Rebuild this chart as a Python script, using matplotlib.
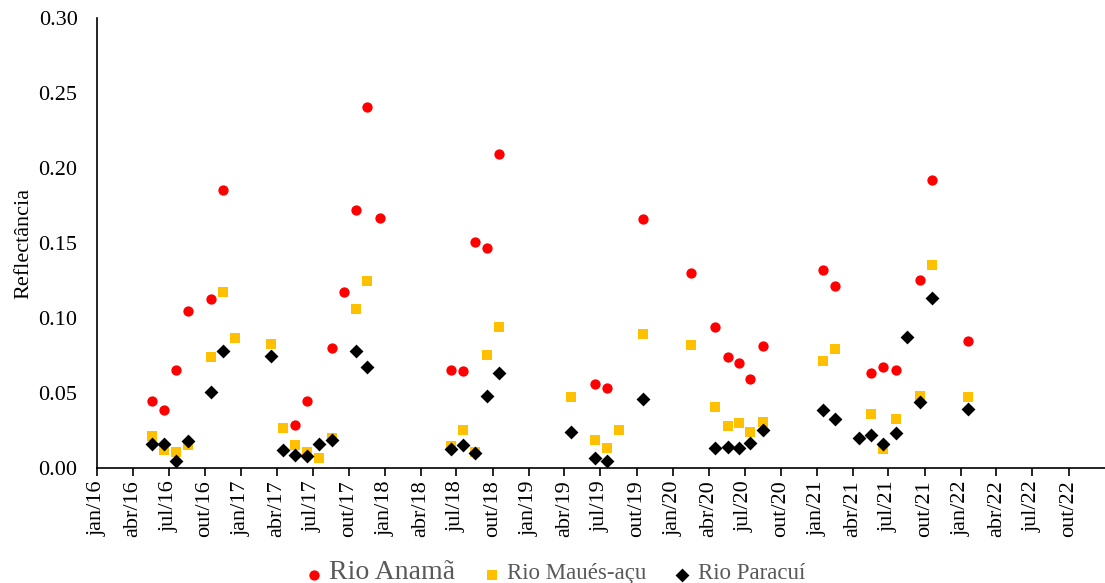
import pandas as pd
import matplotlib.pyplot as plt
from matplotlib.ticker import FormatStrFormatter

plt.rcParams['font.family'] = ['Liberation Serif', 'DejaVu Serif']

# Rio Anamã
datas_anama = ['2016-05-19', '2016-06-19', '2016-07-19', '2016-08-18', '2016-10-16', '2016-11-16',
               '2017-05-18', '2017-06-17', '2017-08-18', '2017-09-18', '2017-10-18', '2017-11-17',
               '2017-12-18', '2018-06-18', '2018-07-17', '2018-08-16', '2018-09-16', '2018-10-16',
               '2019-06-18', '2019-07-18', '2019-10-18', '2020-02-17', '2020-04-18', '2020-05-19',
               '2020-06-16', '2020-07-16', '2020-08-17', '2021-01-17', '2021-02-16', '2021-05-19',
               '2021-06-18', '2021-07-19', '2021-09-18', '2021-10-19', '2022-01-19']
anama = [0.0447, 0.0389, 0.0655, 0.105, 0.113, 0.1855,
         0.029, 0.0447, 0.0804, 0.1176, 0.1718, 0.2407,
         0.1669, 0.0655, 0.0649, 0.1509, 0.1467, 0.2091,
         0.0562, 0.0531, 0.1658, 0.1298, 0.094, 0.0742,
         0.070, 0.0593, 0.0811, 0.1324, 0.1213, 0.0631,
         0.0673, 0.0651, 0.1256, 0.1918, 0.0847]

# Rio Maués-açu
datas_maues = ['2016-05-19', '2016-06-19', '2016-07-19', '2016-08-18', '2016-10-16', '2016-11-16',
               '2016-12-16', '2017-03-17', '2017-04-18', '2017-05-18', '2017-06-17', '2017-07-18',
               '2017-08-18', '2017-10-18', '2017-11-17', '2018-06-18', '2018-07-17', '2018-08-16',
               '2018-09-16', '2018-10-16', '2019-04-17', '2019-06-18', '2019-07-18', '2019-08-18',
               '2019-10-18', '2020-02-17', '2020-04-18', '2020-05-19', '2020-06-16', '2020-07-16',
               '2020-08-17', '2021-01-17', '2021-02-16', '2021-05-19', '2021-06-18', '2021-07-19',
               '2021-09-18', '2021-10-19', '2022-01-19']
maues = [0.0216, 0.012, 0.011, 0.0153, 0.0744, 0.1176,
         0.087, 0.0829, 0.0267, 0.0153, 0.011, 0.0069,
         0.0198, 0.1064, 0.125, 0.0147, 0.0253, 0.0107,
         0.0753, 0.094, 0.0476, 0.0187, 0.0136, 0.0253,
         0.0891, 0.0822, 0.0409, 0.0284, 0.0302, 0.024,
         0.0309, 0.0711, 0.0791, 0.036, 0.0127, 0.0329,
         0.0478, 0.1353, 0.0471]

# Rio Paracuí
datas_paracui = ['2016-05-19', '2016-06-19', '2016-07-19', '2016-08-18', '2016-10-16', '2016-11-16',
                 '2017-03-17', '2017-04-18', '2017-05-18', '2017-06-17', '2017-07-18', '2017-08-18',
                 '2017-10-18', '2017-11-17', '2018-06-18', '2018-07-17', '2018-08-16', '2018-09-16',
                 '2018-10-16', '2019-04-17', '2019-06-18', '2019-07-18', '2019-10-18', '2020-04-18',
                 '2020-05-19', '2020-06-16', '2020-07-16', '2020-08-17', '2021-01-17', '2021-02-16',
                 '2021-04-18', '2021-05-19', '2021-06-18', '2021-07-19', '2021-08-18', '2021-09-18',
                 '2021-10-19', '2022-01-19']
paracui = [0.016, 0.016, 0.0049, 0.018, 0.0507, 0.0782,
           0.0747, 0.0124, 0.0089, 0.0084, 0.0164, 0.0187,
           0.0782, 0.0676, 0.0129, 0.0156, 0.0104, 0.0482,
           0.0636, 0.024, 0.0067, 0.0047, 0.0464, 0.0136,
           0.0142, 0.0131, 0.0167, 0.0253, 0.0387, 0.0329,
           0.020, 0.022, 0.016, 0.0236, 0.0873, 0.0438,
           0.1131, 0.0396]

meses = ['jan', 'abr', 'jul', 'out']

fig = plt.figure(figsize=(11.05, 5.83), dpi=100)
ax = fig.add_axes([0.0878, 0.197, 0.912, 0.772])

ax.scatter(pd.to_datetime(datas_anama), anama, marker='o', s=55, color='#FF0000',
           linewidths=0, label='Rio Anamã', zorder=3)
ax.scatter(pd.to_datetime(datas_maues), maues, marker='s', s=50, color='#FFC000',
           linewidths=0, label='Rio Maués-açu', zorder=4)
ax.scatter(pd.to_datetime(datas_paracui), paracui, marker='D', s=50, color='black',
           linewidths=0, label='Rio Paracuí', zorder=5)

ax.set_xlim(pd.Timestamp('2016-01-01'), pd.Timestamp('2023-01-01'))
ax.set_ylim(0, 0.30)

ticks = pd.date_range('2016-01-01', '2022-10-01', freq='QS')
ax.set_xticks(ticks)
ax.set_xticklabels([f'{meses[(t.month - 1) // 3]}/{t.year % 100:02d}' for t in ticks],
                   rotation=90, fontsize=16)
ax.set_yticks([0, 0.05, 0.10, 0.15, 0.20, 0.25, 0.30])
ax.yaxis.set_major_formatter(FormatStrFormatter('%.2f'))
ax.tick_params(axis='y', length=0, labelsize=16, pad=14)
ax.tick_params(axis='x', length=6, width=1.2, direction='out', pad=3)

ax.spines['top'].set_visible(False)
ax.spines['right'].set_visible(False)
ax.spines['left'].set_linewidth(1.2)
ax.spines['bottom'].set_linewidth(1.2)

ax.set_ylabel('Reflectância', fontsize=16, labelpad=4)

leg = fig.legend(loc='lower center', ncol=3, frameon=False, bbox_to_anchor=(0.5, -0.025),
                 handletextpad=0.1, columnspacing=1.6, labelcolor='#595959')
for txt, sz in zip(leg.get_texts(), [20, 16.5, 16.5]):
    txt.set_fontsize(sz)

fig.savefig('out.png', dpi=100)
